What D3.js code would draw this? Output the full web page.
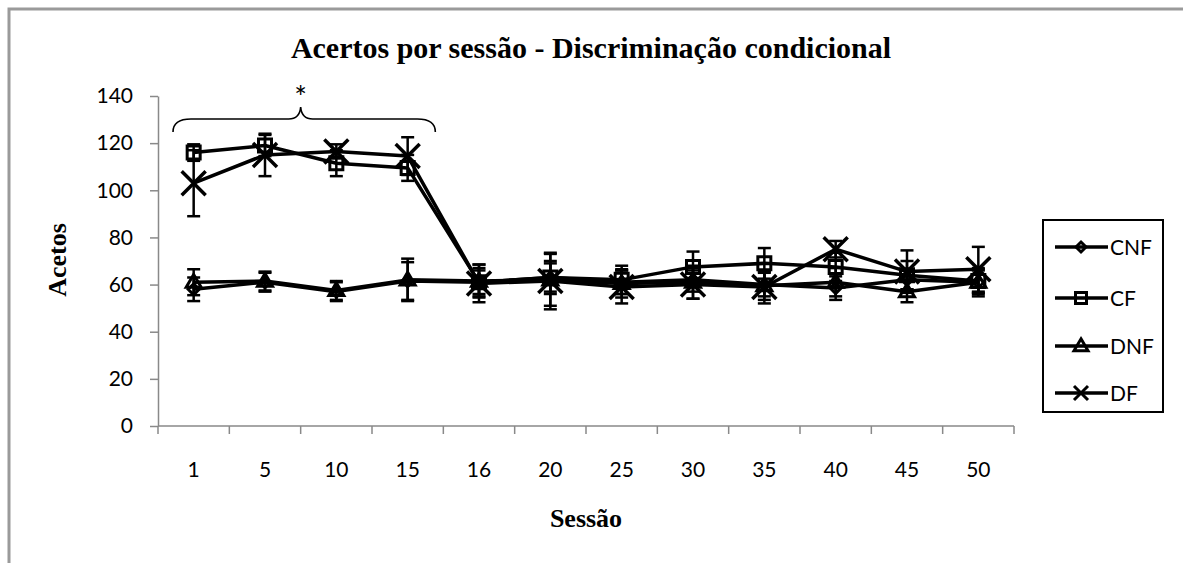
<!DOCTYPE html>
<html>
<head>
<meta charset="utf-8">
<script src="https://cdn.jsdelivr.net/npm/d3@7"></script>
<style>
  html, body { margin: 0; padding: 0; background: #fff; }
  svg { display: block; }
</style>
</head>
<body>
<svg id="chart" width="1183" height="563"></svg>
<script>
// Sessions on the category axis
const sessions = ["1", "5", "10", "15", "16", "20", "25", "30", "35", "40", "45", "50"];
const yTicks = [0, 20, 40, 60, 80, 100, 120, 140];

// Mean correct responses per session, by group
const cnf = [58, 61, 57, 61.5, 61, 63, 61, 62, 60, 58.5, 62, 61];
const cf  = [116, 119, 111.5, 109.5, 61, 63, 62, 67.5, 69, 67.5, 64, 61.5];
const dnf = [61, 61.5, 57.5, 62, 61.5, 62, 60.5, 61, 59.5, 61, 57, 61];
const df  = [103, 115, 116.5, 114.5, 60.5, 61.5, 59, 60, 59, 75, 65.5, 66.5];

// Standard deviations (error bars)
const cnfErr = [5, 4, 4, 8, 5, 6, 5, 5, 5, 5, 4, 5];
const cfErr  = [3.5, 4.5, 5.5, 5.5, 6, 7, 6, 6.5, 6.5, 6, 6, 5];
const dnfErr = [5.5, 4, 4, 9, 7, 11, 6, 7, 6, 6, 4.5, 6];
const dfErr  = [14, 9, 3, 8, 8, 12, 7, 6, 7, 3.5, 9, 9.5];

const seriesNames = ["CNF", "CF", "DNF", "DF"];
const markerKinds = ["diamond", "square", "triangle", "cross"];

const series = [
  { name: seriesNames[0], values: cnf, errs: cnfErr, marker: markerKinds[0] },
  { name: seriesNames[1], values: cf,  errs: cfErr,  marker: markerKinds[1] },
  { name: seriesNames[2], values: dnf, errs: dnfErr, marker: markerKinds[2] },
  { name: seriesNames[3], values: df,  errs: dfErr,  marker: markerKinds[3] }
];

const svg = d3.select("#chart");
const sansFont = "Lato, 'Open Sans', sans-serif";
const serifFont = "'Liberation Serif', 'Times New Roman', serif";
const axisGray = "#898989";

// Outer chart frame
svg.append("rect")
  .attr("x", 9).attr("y", 9)
  .attr("width", 1400).attr("height", 800)
  .attr("fill", "none")
  .attr("stroke", "#9a9a9a")
  .attr("stroke-width", 3);

const plot = { left: 158, right: 1014, top: 96, bottom: 426 };

const x = d3.scaleBand().domain(sessions).range([plot.left, plot.right]);
const y = d3.scaleLinear().domain([0, 140]).range([plot.bottom, plot.top]);
const cx = s => x(s) + x.bandwidth() / 2;

// Title
svg.append("text")
  .attr("x", 591).attr("y", 58)
  .attr("text-anchor", "middle")
  .attr("font-family", serifFont)
  .attr("font-weight", "bold")
  .attr("font-size", 30)
  .text("Acertos por sessão - Discriminação condicional");

// Y axis
const yAxis = svg.append("g")
  .attr("transform", `translate(${plot.left},0)`)
  .call(d3.axisLeft(y).tickValues(yTicks).tickSize(8).tickPadding(17).tickSizeOuter(0));
yAxis.select(".domain").attr("stroke", axisGray).attr("stroke-width", 1.5);
yAxis.selectAll(".tick line").attr("stroke", axisGray).attr("stroke-width", 1.5);
yAxis.selectAll(".tick text")
  .attr("font-family", sansFont).attr("font-size", 21).attr("fill", "#000");

// X axis: labels centred in each category, ticks on category boundaries
const xAxis = svg.append("g")
  .attr("transform", `translate(0,${plot.bottom})`)
  .call(d3.axisBottom(x).tickSize(0).tickPadding(36).tickSizeOuter(0));
xAxis.select(".domain").remove();
xAxis.selectAll(".tick text")
  .attr("font-family", sansFont).attr("font-size", 21).attr("fill", "#000");

const boundaries = sessions.map(s => x(s)).concat([x.range()[1]]);
svg.append("line")
  .attr("x1", plot.left).attr("x2", plot.right)
  .attr("y1", plot.bottom).attr("y2", plot.bottom)
  .attr("stroke", axisGray).attr("stroke-width", 1.5);
svg.append("g").selectAll("line")
  .data(boundaries)
  .join("line")
  .attr("x1", d => d).attr("x2", d => d)
  .attr("y1", plot.bottom).attr("y2", plot.bottom + 8)
  .attr("stroke", axisGray).attr("stroke-width", 1.5);

// Axis titles
svg.append("text")
  .attr("transform", "translate(66,260) rotate(-90)")
  .attr("text-anchor", "middle")
  .attr("font-family", serifFont)
  .attr("font-weight", "bold")
  .attr("font-size", 26)
  .text("Acetos");

svg.append("text")
  .attr("x", 586).attr("y", 527)
  .attr("text-anchor", "middle")
  .attr("font-family", serifFont)
  .attr("font-weight", "bold")
  .attr("font-size", 26)
  .text("Sessão");

// Marker shapes (centred at 0,0)
function markerPath(kind, r) {
  if (kind === "diamond") {
    return `M0,${-r}L${r},0L0,${r}L${-r},0Z`;
  }
  if (kind === "square") {
    return `M${-r},${-r}H${r}V${r}H${-r}Z`;
  }
  if (kind === "triangle") {
    const h = r * 1.7;
    return `M0,${-h * 0.6}L${r},${h * 0.4}L${-r},${h * 0.4}Z`;
  }
  return `M${-r},${-r}L${r},${r}M${r},${-r}L${-r},${r}`;
}
const chartMarkerSize = { diamond: 5.5, square: 6.5, triangle: 7.5, cross: 12 };

const line = d3.line()
  .x((d, i) => cx(sessions[i]))
  .y(d => y(d));

series.forEach(s => {
  const g = svg.append("g");
  // Series line
  g.append("path")
    .attr("d", line(s.values))
    .attr("fill", "none")
    .attr("stroke", "#000")
    .attr("stroke-width", 3.5)
    .attr("stroke-linejoin", "round");

  // Error bars
  const eb = g.append("g").selectAll("g")
    .data(s.values.map((v, i) => ({ v, e: s.errs[i], s: sessions[i] })))
    .join("g")
    .attr("stroke", "#000")
    .attr("stroke-width", 2.5);
  eb.append("line")
    .attr("x1", d => cx(d.s)).attr("x2", d => cx(d.s))
    .attr("y1", d => y(d.v + d.e)).attr("y2", d => y(d.v - d.e));
  eb.append("line")
    .attr("x1", d => cx(d.s) - 6.5).attr("x2", d => cx(d.s) + 6.5)
    .attr("y1", d => y(d.v + d.e)).attr("y2", d => y(d.v + d.e));
  eb.append("line")
    .attr("x1", d => cx(d.s) - 6.5).attr("x2", d => cx(d.s) + 6.5)
    .attr("y1", d => y(d.v - d.e)).attr("y2", d => y(d.v - d.e));

  // Markers
  g.append("g").selectAll("path")
    .data(s.values)
    .join("path")
    .attr("transform", (d, i) => `translate(${cx(sessions[i])},${y(d)})`)
    .attr("d", markerPath(s.marker, chartMarkerSize[s.marker]))
    .attr("fill", "none")
    .attr("stroke", "#000")
    .attr("stroke-width", s.marker === "cross" ? 3.5 : 3);
});

// Brace over the first block of sessions, with significance mark
const bx0 = x("1") + 15, bx1 = x("15") + x.bandwidth() - 8;
const bmid = (cx("5") + cx("10")) / 2;
const bTop = 119, bEnd = 132, bCusp = 107;
const brace = d3.path();
brace.moveTo(bx0, bEnd);
brace.quadraticCurveTo(bx0, bTop, bx0 + 18, bTop);
brace.lineTo(bmid - 12, bTop);
brace.quadraticCurveTo(bmid - 1, bTop, bmid, bCusp);
brace.quadraticCurveTo(bmid + 1, bTop, bmid + 12, bTop);
brace.lineTo(bx1 - 18, bTop);
brace.quadraticCurveTo(bx1, bTop, bx1, bEnd);
svg.append("path")
  .attr("d", brace.toString())
  .attr("fill", "none")
  .attr("stroke", "#000")
  .attr("stroke-width", 1.6);

svg.append("text")
  .attr("x", bmid).attr("y", 108)
  .attr("text-anchor", "middle")
  .attr("font-family", sansFont)
  .attr("font-size", 30)
  .text("*");

// Legend
const legend = svg.append("g");
legend.append("rect")
  .attr("x", 1043).attr("y", 220)
  .attr("width", 120).attr("height", 192)
  .attr("fill", "#fff")
  .attr("stroke", "#000")
  .attr("stroke-width", 2);
const legendY = [247, 298, 346, 393];
const legendMarkerSize = { diamond: 5, square: 5.5, triangle: 7, cross: 7 };
series.forEach((s, i) => {
  const ly = legendY[i];
  legend.append("line")
    .attr("x1", 1055).attr("x2", 1108)
    .attr("y1", ly).attr("y2", ly)
    .attr("stroke", "#000").attr("stroke-width", 3.5);
  legend.append("path")
    .attr("transform", `translate(1081,${ly})`)
    .attr("d", markerPath(s.marker, legendMarkerSize[s.marker]))
    .attr("fill", "none")
    .attr("stroke", "#000")
    .attr("stroke-width", 3);
  legend.append("text")
    .attr("x", 1110).attr("y", ly)
    .attr("dy", "0.36em")
    .attr("font-family", sansFont)
    .attr("font-size", 21)
    .text(s.name);
});
</script>
</body>
</html>
